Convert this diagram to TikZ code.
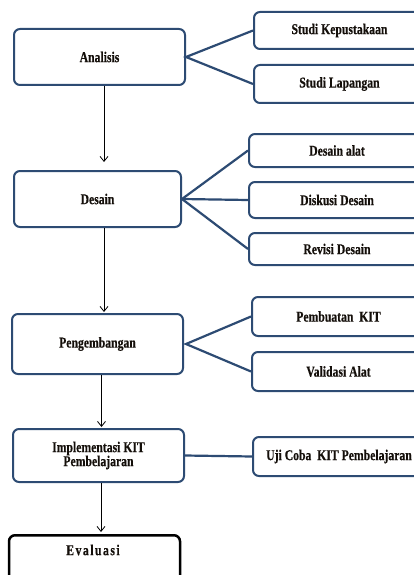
\documentclass[tikz,border=0pt]{standalone}
\usepackage{fontspec}
\setmainfont{Liberation Serif}[FakeStretch=0.78, FakeBold=0.4]
\usetikzlibrary{arrows.meta}
\definecolor{navy}{RGB}{45,75,115}
\definecolor{ink}{RGB}{20,15,10}
\tikzset{
  box/.style={draw=navy, line width=2pt, rounded corners=6pt, fill=white, text=ink,
    inner sep=0pt, font=\fontsize{15}{14}\selectfont\bfseries, align=center},
  link/.style={draw=navy, line width=2.2pt},
  arr/.style={draw=black, line width=0.8pt, -{Straight Barb[length=5pt,width=8pt]}},
  evabox/.style={draw=black, line width=2.5pt, rounded corners=6pt, fill=white, inner sep=0pt},
  lbl/.style={font=\fontsize{15}{14}\selectfont\bfseries\addfontfeature{LetterSpace=10}, text=ink, inner sep=0pt}
}
\begin{document}
\begin{tikzpicture}[x=1pt, y=-1pt]
\clip (0,0) rectangle (414,575);
\fill[white] (0,0) rectangle (414,575);
% left column
\node[box, minimum width=171pt, minimum height=56pt] (ana) at (99.5,57) {Analisis};
\node[box, minimum width=167pt, minimum height=56pt] (des) at (97.5,199) {Desain};
\node[box, minimum width=171pt, minimum height=60pt] (pen) at (97.5,344) {Pengembangan};
\node[box, minimum width=171pt, minimum height=53pt] (imp) at (98.5,455.5) {Implementasi KIT\\Pembelajaran};
\node[evabox, minimum width=171pt, minimum height=80pt, anchor=north] (eva) at (94.5,534) {};
\node[lbl] (evat) at (93,550) {Evaluasi};
% right column
\node[box, minimum width=171pt, minimum height=37pt] (kep) at (339.5,30.5) {Studi Kepustakaan};
\node[box, minimum width=171pt, minimum height=38pt] (lap) at (339.5,84) {Studi Lapangan};
\node[box, minimum width=176pt, minimum height=33pt] (alat) at (337,150.5) {Desain alat};
\node[box, minimum width=176pt, minimum height=36pt] (disk) at (337,200) {Diskusi Desain};
\node[box, minimum width=176pt, minimum height=32pt] (rev) at (337,249) {Revisi Desain};
\node[box, minimum width=173pt, minimum height=39pt] (pemb) at (338.5,316.5) {Pembuatan\ \ KIT};
\node[box, minimum width=173pt, minimum height=39pt] (val) at (338.5,371.5) {Validasi Alat};
\node[box, minimum width=172pt, minimum height=39pt] (uji) at (339,456.5) {Uji Coba\ \ KIT\ Pembelajaran};
% blue links
\draw[link] (kep.west) -- (ana.east) -- (lap.west);
\draw[link] (alat.west) -- (des.east) -- (rev.west);
\draw[link] (des.east) -- (disk.west);
\draw[link] (pemb.west) -- ([xshift=2pt]pen.east) -- (val.west);
\draw[link] (imp.east) -- (uji.west);
% arrows
\draw[arr] ([xshift=4.5pt]ana.south) -- ([xshift=6.5pt,yshift=8pt]des.north);
\draw[arr] ([xshift=6.5pt]des.south) -- ([xshift=6.5pt,yshift=1pt]pen.north);
\draw[arr] ([xshift=4pt]pen.south) -- ([xshift=3pt,yshift=1pt]imp.north);
\draw[arr] ([xshift=2.5pt]imp.south) -- ([xshift=6.5pt,yshift=2pt]eva.north);
\end{tikzpicture}
\end{document}
